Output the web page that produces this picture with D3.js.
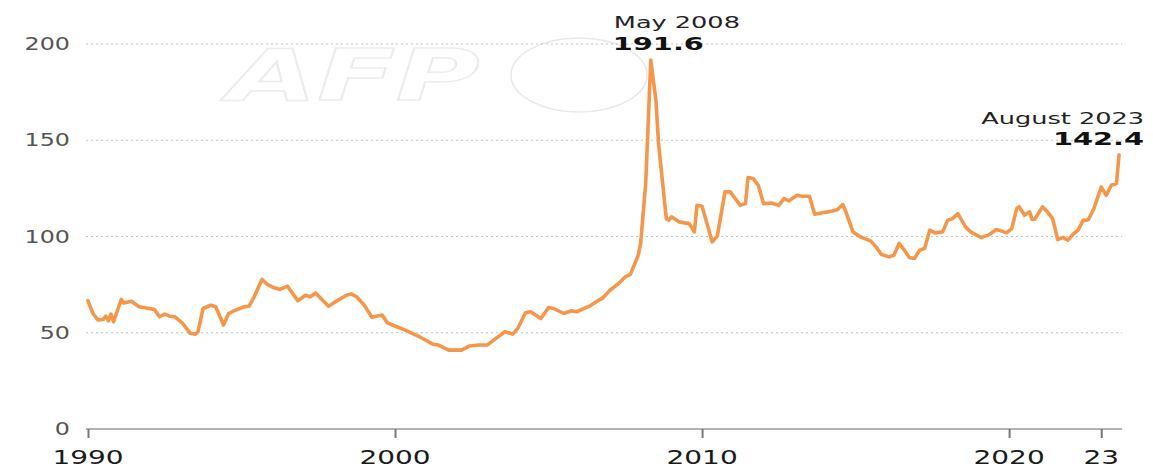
<!DOCTYPE html>
<html>
<head>
<meta charset="utf-8">
<script src="https://cdn.jsdelivr.net/npm/d3@7"></script>
<style>
  html, body { margin: 0; padding: 0; background: #fff; }
  svg { display: block; }
</style>
</head>
<body>
<svg id="chart" width="1153" height="468"></svg>
<script>
// FAO All Rice Price Index, monthly readings (2014-2016 = 100)
const months = [
  "1990-01","1990-03","1990-05","1990-07","1990-08","1990-09","1990-10","1990-11",
  "1991-02","1991-03","1991-06","1991-09","1992-03","1992-05","1992-07","1992-09","1992-11",
  "1993-02","1993-05","1993-07","1993-08","1993-10","1994-01","1994-03","1994-06","1994-08","1994-10",
  "1995-02","1995-04","1995-06","1995-09","1995-11","1996-01","1996-04","1996-07","1996-11",
  "1997-02","1997-04","1997-06","1997-11","1998-01","1998-06","1998-08","1998-10",
  "1999-01","1999-04","1999-08","1999-10","2000-01","2000-05","2000-10",
  "2001-04","2001-06","2001-10","2002-03","2002-06","2002-10","2003-01","2003-05","2003-08","2003-11",
  "2004-01","2004-04","2004-06","2004-10","2005-01","2005-03","2005-07","2005-10","2005-12",
  "2006-02","2006-05","2006-09","2006-10","2007-01","2007-04","2007-07","2007-09","2007-12",
  "2008-01","2008-03","2008-05","2008-07","2008-08","2008-11","2008-12",
  "2009-01","2009-04","2009-08","2009-10","2009-11","2010-01","2010-05","2010-07","2010-10","2010-12",
  "2011-04","2011-06","2011-07","2011-09","2011-11","2012-01","2012-04","2012-07","2012-09","2012-11",
  "2013-02","2013-04","2013-07","2013-09","2013-12","2014-02","2014-04","2014-06","2014-08","2014-09","2014-12",
  "2015-03","2015-07","2015-09","2015-11","2016-02","2016-04","2016-06","2016-08","2016-10","2016-12",
  "2017-02","2017-04","2017-06","2017-08","2017-11","2018-01","2018-03","2018-05","2018-08","2018-10",
  "2019-02","2019-05","2019-08","2019-09","2019-12","2020-02","2020-04","2020-05","2020-07","2020-09","2020-10","2020-11",
  "2021-02","2021-04","2021-06","2021-07","2021-08","2021-10","2021-12",
  "2022-02","2022-04","2022-06","2022-07","2022-08","2022-10",
  "2023-01","2023-03","2023-05","2023-07","2023-08"
];
const index = [
  66.6,60.0,56.6,56.9,58.6,56.2,59.7,55.7,
  67.3,65.5,66.4,63.5,62.1,58.3,59.7,58.6,58.3,
  54.8,49.7,49.3,50.5,62.6,64.3,63.5,54.0,60.0,61.4,
  63.5,63.8,68.7,77.7,75.2,73.8,72.5,74.2,66.6,
  69.5,68.7,70.7,63.8,65.5,69.5,70.1,68.7,
  64.3,58.0,59.2,55.2,53.5,51.4,48.3,
  44.0,43.6,41.0,41.0,43.1,43.6,43.6,47.6,50.5,49.3,
  52.3,60.4,60.9,57.4,63.1,62.6,60.0,61.4,60.9,
  62.1,63.8,67.3,67.8,72.1,75.1,79.0,80.3,90.0,
  96.4,127.5,191.6,170.7,148.3,109.3,108.5,
  110.2,107.6,106.7,102.4,116.2,115.7,97.2,100.2,123.2,123.2,
  116.2,117.1,130.6,130.1,126.6,117.1,117.4,116.2,119.7,118.5,
  121.4,120.9,120.9,111.6,112.3,112.8,113.3,114.0,116.6,113.6,102.4,
  99.8,97.6,94.6,90.8,89.4,90.3,96.4,93.0,89.1,88.6,
  92.9,93.8,103.3,101.9,102.4,108.5,109.3,111.9,105.0,102.4,
  99.5,100.7,103.6,103.3,101.9,104.1,114.5,115.4,111.1,112.8,108.8,109.0,
  115.4,112.8,109.3,104.1,98.4,99.5,98.1,
  101.2,103.3,108.5,108.3,108.8,114.0,
  125.7,121.4,126.6,127.5,142.4
];
const yTicks = [0, 50, 100, 150, 200];
const xTickDates = ["1990-01","2000-01","2010-01","2020-01","2023-01"];
const xTickLabels = ["1990","2000","2010","2020","23"];
const peak = { month: "2008-05", label: "May 2008", value: 191.6 };
const latest = { month: "2023-08", label: "August 2023", value: 142.4 };

const parse = d3.timeParse("%Y-%m");
const series = months.map((m, i) => ({ date: parse(m), value: index[i] }));

const svg = d3.select("#chart");
const FONT = "'DejaVu Sans', Verdana, sans-serif";
const STRETCH = 1.4;      // wide lettering of axis labels
const STRETCH_NOTE = 1.6; // wide lettering of the annotations

const x = d3.scaleTime()
  .domain([parse("1990-01"), new Date(2023, 8, 5)])
  .range([88, 1122]);
const y = d3.scaleLinear().domain([0, 200]).range([429, 44]);

// Faint agency watermark behind the plot
const wm = svg.append("g");
wm.append("g")
  .attr("transform", "translate(228,100) scale(1.62,1)")
  .append("text")
  .attr("font-family", "'DejaVu Sans', sans-serif")
  .attr("font-weight", "bold")
  .attr("font-style", "italic")
  .attr("font-size", 71)
  .attr("fill", "#fff")
  .attr("stroke", "#ececec")
  .attr("stroke-width", 1.4);
wm.select("text").text("AFP");
wm.append("ellipse")
  .attr("cx", 579).attr("cy", 75).attr("rx", 68).attr("ry", 37)
  .attr("fill", "none").attr("stroke", "#e8e8e8").attr("stroke-width", 1.5);

// Horizontal dotted gridlines
const grid = svg.append("g");
grid.selectAll("line")
  .data(yTicks.filter(d => d > 0))
  .join("line")
  .attr("x1", 86).attr("x2", 1122)
  .attr("y1", d => y(d)).attr("y2", d => y(d))
  .attr("stroke", "#b9c3cc")
  .attr("stroke-width", 1)
  .attr("stroke-dasharray", "2,3");

// Y-axis labels
const yLab = svg.append("g");
yTicks.forEach(t => {
  yLab.append("g")
    .attr("transform", `translate(70,${y(t) + 6}) scale(${STRETCH},1)`)
    .append("text")
    .attr("text-anchor", "end")
    .attr("font-family", FONT)
    .attr("font-size", 17)
    .attr("fill", "#555")
    .text(t);
});

// X axis with a baseline and ticks
const xAxis = d3.axisBottom(x)
  .tickValues(xTickDates.map(parse))
  .tickSize(9)
  .tickFormat("");
const axisG = svg.append("g")
  .attr("transform", `translate(0,${y(0)})`)
  .call(xAxis);
axisG.select(".domain")
  .attr("d", `M86,0H1122`)
  .attr("stroke", "#9a9a9a")
  .attr("stroke-width", 1.6);
axisG.selectAll(".tick line")
  .attr("stroke", "#777")
  .attr("stroke-width", 2);

xTickDates.forEach((d, i) => {
  svg.append("g")
    .attr("transform", `translate(${x(parse(d))},464) scale(${STRETCH},1)`)
    .append("text")
    .attr("text-anchor", "middle")
    .attr("font-family", FONT)
    .attr("font-size", 20)
    .attr("fill", "#1a1a1a")
    .text(xTickLabels[i]);
});

// Price line
const line = d3.line()
  .x(d => x(d.date))
  .y(d => y(d.value));
svg.append("path")
  .datum(series)
  .attr("d", line)
  .attr("fill", "none")
  .attr("stroke", "#f4974a")
  .attr("stroke-width", 3.6)
  .attr("stroke-linejoin", "round")
  .attr("stroke-linecap", "round");

// Annotations
function note(tx, ty, anchor, size, weight, fill, text) {
  svg.append("g")
    .attr("transform", `translate(${tx},${ty}) scale(${STRETCH_NOTE},1)`)
    .append("text")
    .attr("text-anchor", anchor)
    .attr("font-family", FONT)
    .attr("font-size", size)
    .attr("font-weight", weight)
    .attr("fill", fill)
    .text(text);
}
const px = x(parse(peak.month));
note(px - 37, 28, "start", 16, "normal", "#222", peak.label);
note(px - 38, 50, "start", 18, "bold", "#111", d3.format(".1f")(peak.value));
note(1144, 124, "end", 16, "normal", "#222", latest.label);
note(1144, 145, "end", 18, "bold", "#111", d3.format(".1f")(latest.value));
</script>
</body>
</html>
